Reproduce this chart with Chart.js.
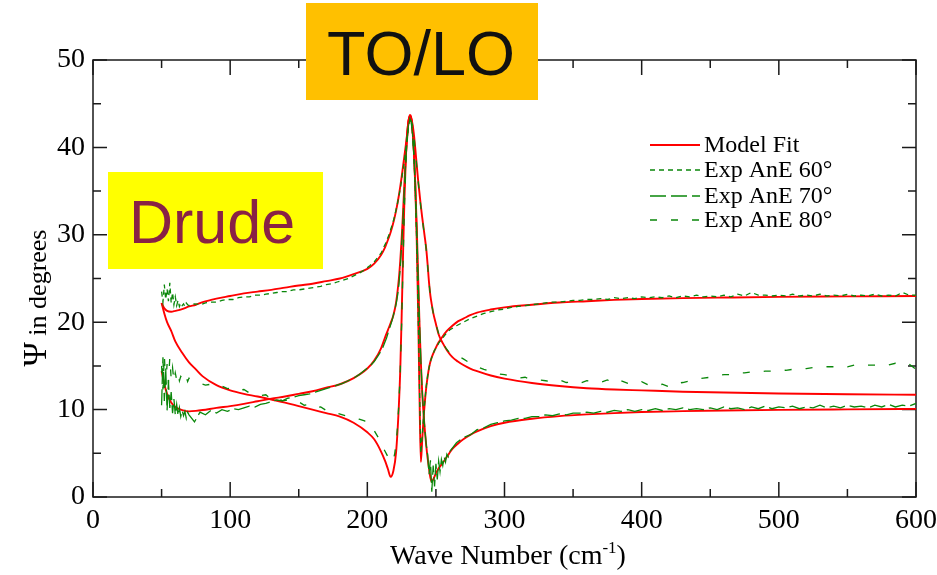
<!DOCTYPE html>
<html>
<head>
<meta charset="utf-8">
<title>Psi vs wave number</title>
<script src="https://cdn.jsdelivr.net/npm/chart.js@4.4.0/dist/chart.umd.min.js"></script>
<style>
  html, body { margin: 0; padding: 0; background: #fff; }
  #chart { display: block; }
</style>
</head>
<body>
<canvas id="chart" width="937" height="575"></canvas>
<script>
// Model fit: wave number grid (cm-1) and Psi (degrees) for each angle
const fitWave = [
  50, 52, 54, 57, 60, 65, 70, 75, 80, 90,
  100, 110, 120, 130, 140, 150, 160, 170, 180, 190,
  200, 205, 210, 213, 215, 217, 219, 221, 223, 224,
  225, 226, 227, 228, 229, 230, 231, 232, 233, 234,
  235, 236, 237, 238, 239, 240, 241, 242, 243, 244,
  245, 246, 247, 248, 250, 252, 255, 258, 262, 266,
  270, 275, 280, 290, 300, 320, 340, 360, 380, 400,
  430, 460, 500, 550, 600
];
const fit60 = [
  22.2, 21.6, 21.3, 21.2, 21.3, 21.5, 21.8, 22.0, 22.3, 22.7,
  23.0, 23.3, 23.5, 23.7, 23.95, 24.2, 24.4, 24.7, 25.0, 25.5,
  26.1, 26.7, 27.7, 28.6, 29.4, 30.3, 31.4, 32.8, 34.5, 35.5,
  36.6, 37.8, 39.0, 40.2, 41.5, 43.0, 43.7, 43.4, 42.0, 39.5,
  35.5, 29.5, 21.5, 12.0, 4.0, 6.5, 9.0, 11.0, 12.6, 13.8,
  14.8, 15.5, 16.0, 16.4, 17.1, 17.7, 18.4, 19.0, 19.6, 20.1,
  20.4, 20.8, 21.1, 21.45, 21.7, 22.0, 22.25, 22.4, 22.55, 22.65,
  22.75, 22.82, 22.9, 22.95, 23.0
];
const fit70 = [
  14.4, 12.9, 11.8, 10.8, 10.3, 9.95, 9.8, 9.85, 9.95, 10.2,
  10.4, 10.65, 10.95, 11.25, 11.5, 11.8, 12.1, 12.5, 12.9, 13.6,
  14.7, 15.6, 17.0, 18.3, 19.1, 19.9, 20.8, 22.3, 25.0, 27.0,
  29.5, 32.5, 35.8, 38.8, 41.0, 42.9, 43.6, 43.3, 41.8, 39.3,
  35.5, 31.0, 25.5, 20.0, 15.5, 12.0, 9.5, 7.5, 5.8, 4.4,
  3.2, 2.2, 1.75, 2.0, 2.7, 3.3, 3.9, 4.6, 5.5, 6.1,
  6.6, 7.1, 7.5, 8.1, 8.5, 8.95, 9.25, 9.45, 9.6, 9.72,
  9.82, 9.9, 9.97, 10.03, 10.08
];
const fit80 = [
  22.2, 21.0, 20.0, 19.0, 17.8, 16.5, 15.4, 14.6, 13.8, 12.8,
  12.2, 11.8, 11.5, 11.15, 10.8, 10.4, 10.0, 9.6, 9.2, 8.5,
  7.4, 6.6, 5.2, 4.1, 3.2, 2.3, 3.0, 5.2, 10.5, 14.5,
  20.5, 27.5, 33.8, 38.5, 41.5, 43.0, 43.5, 43.3, 42.6, 41.4,
  39.8, 38.0, 36.3, 34.8, 33.3, 32.0, 30.8, 29.6, 28.3, 26.5,
  24.5, 23.0, 22.0, 21.1, 19.8, 18.6, 17.6, 16.8, 16.0, 15.5,
  15.1, 14.7, 14.4, 13.9, 13.55, 13.05, 12.7, 12.45, 12.3, 12.2,
  12.05, 11.95, 11.85, 11.75, 11.7
];

// Measured AnE spectra on their own wave number grid
const expWave = [
  50, 51, 52, 53, 54, 55, 56, 57, 58, 59, 60, 61, 62, 63, 64, 65, 66, 67, 68, 69, 70,
  74, 78, 82, 86, 90, 94, 98, 102, 106, 110, 114, 118, 122, 126, 130, 134, 138, 142, 146, 150,
  154, 158, 162, 166, 170, 174, 178, 182, 186, 190, 194, 198, 202, 205, 208,
  210, 211, 212, 213, 214, 215, 216, 217, 218, 219, 220, 221, 222, 223, 224, 225, 226, 227, 228, 229, 230, 231, 232, 233, 234, 235,
  236, 237, 238, 239, 240, 241, 242, 243, 244, 245, 246, 247, 248, 249, 250, 251, 252, 253, 254, 255, 256, 257, 258, 259, 260,
  265, 270, 275, 280, 285, 290, 295, 300, 305, 310, 315, 320, 325, 330, 335, 340, 345, 350, 355, 360, 365, 370, 375, 380, 385, 390, 395, 400,
  405, 410, 415, 420, 425, 430, 435, 440, 445, 450, 455, 460, 465, 470, 475, 480, 485, 490, 495, 500,
  505, 510, 515, 520, 525, 530, 535, 540, 545, 550, 555, 560, 565, 570, 575, 580, 585, 590, 595, 600
];
const exp60 = [
  23.5, 22.3, 24.3, 22.6, 23.8, 22.4, 24.5, 22.2, 23.4, 22.0, 22.9, 21.9, 22.5, 21.8, 22.2, 21.9, 22.1, 21.8, 22.2, 22.0, 21.9,
  22.1, 22.0, 22.2, 22.3, 22.3, 22.5, 22.6, 22.6, 22.8, 22.9, 22.9, 23.1, 23.1, 23.2, 23.3, 23.4, 23.5, 23.5, 23.7, 23.7,
  23.8, 23.9, 24.0, 24.1, 24.3, 24.4, 24.6, 24.8, 25.0, 25.3, 25.6, 26.0, 26.5, 26.9, 27.5,
  27.9, 28.2, 28.6, 28.9, 29.3, 29.7, 30.1, 30.6, 31.1, 31.6, 32.2, 32.9, 33.6, 34.4, 35.3, 36.3, 37.4, 38.5, 39.8, 41.0, 42.4, 43.2, 43.0, 41.6, 39.0, 35.0,
  29.2, 21.6, 12.8, 5.0, 6.8, 9.2, 11.1, 12.7, 13.9, 14.8, 15.5, 16.0, 16.4, 16.8, 17.0, 17.3, 17.6, 17.8, 18.0, 18.2, 18.4, 18.6, 18.8, 18.9, 19.1,
  19.6, 20.0, 20.4, 20.7, 21.0, 21.2, 21.4, 21.5, 21.7, 21.8, 21.9, 22.0, 22.1, 22.2, 22.3, 22.3, 22.4, 22.5, 22.5, 22.6, 22.6, 22.7, 22.6, 22.8, 22.7, 22.8, 22.7, 22.9,
  22.8, 22.9, 22.8, 23.0, 22.8, 23.0, 22.9, 23.1, 22.9, 23.0, 22.9, 23.1, 22.9, 23.2, 23.0, 23.4, 23.1, 23.1, 23.0, 23.1,
  23.0, 23.2, 23.0, 23.1, 23.0, 23.2, 23.0, 23.1, 23.0, 23.2, 23.0, 23.1, 23.0, 23.2, 23.0, 23.1, 23.0, 23.4, 23.1, 23.1
];
const exp70 = [
  10.5, 16.0, 11.0, 14.8, 9.9, 13.2, 10.2, 12.0, 9.6, 11.2, 9.4, 10.6, 9.3, 10.2, 9.2, 9.9, 9.3, 9.8, 9.0, 9.7, 9.4,
  8.6, 9.7, 9.4, 9.9, 9.6, 10.0, 9.8, 10.1, 10.0, 10.2, 10.4, 10.3, 10.6, 10.7, 10.9, 11.1, 11.0, 11.3, 11.4, 11.6,
  11.7, 11.8, 12.0, 12.2, 12.4, 12.6, 12.8, 13.0, 13.3, 13.6, 14.0, 14.5, 15.0, 15.5, 16.2,
  16.7, 17.0, 17.4, 17.8, 18.2, 18.7, 19.2, 19.7, 20.2, 20.8, 21.4, 22.1, 23.0, 24.3, 26.2, 28.8, 31.8, 35.3, 38.5, 40.9, 42.6, 43.3, 42.9, 41.3, 38.9, 35.2,
  30.7, 25.4, 20.2, 15.7, 12.1, 9.6, 7.6, 5.9, 4.8, 2.6, 4.2, 0.6, 3.6, 1.2, 3.8, 2.0, 4.1, 2.9, 4.3, 3.6, 4.6, 4.0, 4.9, 4.6, 5.2,
  6.2, 6.8, 7.1, 7.7, 7.9, 8.3, 8.5, 8.7, 8.8, 9.0, 9.0, 9.2, 9.2, 9.4, 9.3, 9.5, 9.4, 9.6, 9.6, 9.7, 9.6, 9.8, 9.7, 9.9, 9.8, 10.0, 9.8, 10.0,
  9.9, 10.1, 9.9, 10.1, 10.0, 10.2, 10.0, 10.1, 10.0, 10.2, 10.0, 10.3, 10.1, 10.2, 10.0, 10.3, 10.1, 10.4, 10.1, 10.3,
  10.2, 10.4, 10.1, 10.3, 10.2, 10.5, 10.2, 10.4, 10.2, 10.5, 10.3, 10.4, 10.2, 10.5, 10.3, 10.6, 10.3, 10.5, 10.4, 10.7
];
const exp80 = [
  15.0, 12.3, 16.3, 12.8, 15.2, 13.0, 16.0, 13.5, 14.8, 13.2, 14.2, 13.4, 14.1, 13.3, 13.8, 13.6, 13.9, 13.4, 13.7, 13.2, 13.6,
  13.3, 13.0, 12.8, 12.9, 12.6, 12.7, 12.4, 12.5, 12.2, 12.3, 11.9, 11.8, 11.6, 11.7, 11.2, 11.4, 11.0, 11.1, 10.8, 10.9,
  10.5, 10.6, 10.2, 10.3, 9.9, 9.9, 9.6, 9.4, 9.2, 9.1, 8.9, 8.7, 8.4, 7.6, 6.8,
  6.1, 5.8, 5.5, 5.2, 4.9, 4.6, 4.3, 4.1, 4.0, 4.3, 5.0, 6.2, 8.0, 10.7, 14.5, 19.8, 26.5, 33.0, 38.0, 41.0, 42.6, 43.1, 43.0, 42.5, 41.3, 39.6,
  37.9, 36.2, 34.7, 33.2, 31.9, 30.7, 29.5, 28.2, 26.4, 24.5, 23.0, 22.0, 21.1, 20.4, 19.8, 19.2, 18.7, 18.3, 17.9, 17.6, 17.4, 17.1, 16.9, 16.7, 16.5,
  16.2, 15.8, 15.3, 14.9, 14.6, 14.4, 14.1, 14.0, 13.8, 13.6, 13.7, 13.4, 13.4, 13.3, 13.2, 13.4, 13.1, 13.2, 13.0, 13.3, 13.2, 13.1, 13.4, 13.0, 13.3, 13.0, 12.9, 13.2,
  12.8, 12.7, 12.9, 12.6, 13.0, 13.1, 13.3, 13.5, 13.6, 13.7, 13.9, 14.0, 14.0, 14.2, 14.2, 14.3, 14.3, 14.4, 14.4, 14.5,
  14.5, 14.6, 14.6, 14.7, 14.8, 14.8, 14.9, 14.9, 15.0, 14.9, 15.1, 15.0, 15.1, 15.1, 15.2, 15.1, 15.3, 15.1, 15.2, 14.6
];

// Axis ticks
const xTickValues = [0, 100, 200, 300, 400, 500, 600];
const xMinorTicks = [50, 150, 250, 350, 450, 550];
const yTickValues = [0, 10, 20, 30, 40, 50];
const yMinorTicks = [5, 15, 25, 35, 45];

const SERIF = "'Liberation Serif', 'Times New Roman', serif";
const SANS = "'Liberation Sans', Arial, sans-serif";
const RED = '#ff0000';
const GREEN = '#0a870a';

function toPoints(xs, ys) {
  return xs.map((x, i) => ({ x: x, y: ys[i] }));
}

function fitLine(values) {
  return {
    label: 'Model Fit',
    data: toPoints(fitWave, values),
    showLine: true,
    borderColor: RED,
    borderWidth: 1.9,
    cubicInterpolationMode: 'monotone',
    pointRadius: 0,
    order: 1
  };
}

function expLine(label, values, dash) {
  return {
    label: label,
    data: toPoints(expWave, values),
    showLine: true,
    borderColor: GREEN,
    borderWidth: 1.3,
    borderDash: dash,
    tension: 0,
    pointRadius: 0,
    order: 0
  };
}

// Frame, inward ticks, axis titles, legend and the two callout boxes
const decorations = {
  id: 'decorations',
  beforeDatasetsDraw(chart) {
    const { ctx, chartArea: a, scales: { x, y } } = chart;
    ctx.save();
    ctx.strokeStyle = '#1a1a1a';
    ctx.lineWidth = 1.5;
    ctx.strokeRect(a.left, a.top, a.right - a.left, a.bottom - a.top);
    ctx.beginPath();
    const xt = (v, len) => {
      const p = x.getPixelForValue(v);
      ctx.moveTo(p, a.bottom); ctx.lineTo(p, a.bottom - len);
      ctx.moveTo(p, a.top); ctx.lineTo(p, a.top + len);
    };
    const yt = (v, len) => {
      const p = y.getPixelForValue(v);
      ctx.moveTo(a.left, p); ctx.lineTo(a.left + len, p);
      ctx.moveTo(a.right, p); ctx.lineTo(a.right - len, p);
    };
    xTickValues.forEach(v => xt(v, 15));
    xMinorTicks.forEach(v => xt(v, 8));
    yTickValues.forEach(v => yt(v, 14));
    yMinorTicks.forEach(v => yt(v, 8));
    ctx.stroke();
    ctx.restore();
  },
  afterDraw(chart) {
    const { ctx } = chart;
    ctx.save();
    ctx.fillStyle = '#000';

    // x axis title with superscript
    const main = 'Wave Number (cm';
    const sup = '-1';
    const close = ')';
    ctx.font = '28px ' + SERIF;
    const wMain = ctx.measureText(main).width;
    const wClose = ctx.measureText(close).width;
    ctx.font = '17px ' + SERIF;
    const wSup = ctx.measureText(sup).width;
    const tx = 508 - (wMain + wSup + wClose) / 2;
    const base = 564;
    ctx.textBaseline = 'alphabetic';
    ctx.textAlign = 'left';
    ctx.font = '28px ' + SERIF;
    ctx.fillText(main, tx, base);
    ctx.font = '17px ' + SERIF;
    ctx.fillText(sup, tx + wMain, base - 11);
    ctx.font = '28px ' + SERIF;
    ctx.fillText(close, tx + wMain + wSup, base);

    // y axis title, rotated
    ctx.save();
    ctx.translate(46, 298);
    ctx.rotate(-Math.PI / 2);
    const psi = '\u03A8';
    const rest = ' in degrees';
    ctx.font = '33px ' + SERIF;
    const wPsi = ctx.measureText(psi).width;
    ctx.font = '26px ' + SERIF;
    const wRest = ctx.measureText(rest).width;
    const ty = -(wPsi + wRest) / 2;
    ctx.font = '33px ' + SERIF;
    ctx.fillText(psi, ty, 0);
    ctx.font = '26px ' + SERIF;
    ctx.fillText(rest, ty + wPsi, 0);
    ctx.restore();

    // legend
    const entries = [
      chart.data.datasets[3],
      chart.data.datasets[0],
      chart.data.datasets[1],
      chart.data.datasets[2]
    ];
    const rowY = [145, 170, 196, 220];
    ctx.font = '24px ' + SERIF;
    ctx.textBaseline = 'middle';
    entries.forEach((ds, i) => {
      ctx.beginPath();
      ctx.strokeStyle = ds.borderColor;
      ctx.lineWidth = ds.borderWidth;
      ctx.setLineDash(ds.borderDash || []);
      ctx.moveTo(650, rowY[i]);
      ctx.lineTo(700, rowY[i]);
      ctx.stroke();
      ctx.setLineDash([]);
      ctx.fillStyle = '#000';
      ctx.fillText(ds.label, 704, rowY[i] + 1);
    });

    // callout boxes
    ctx.fillStyle = '#ffc000';
    ctx.fillRect(306, 3, 232, 97);
    ctx.fillStyle = '#111';
    ctx.font = '63px ' + SANS;
    ctx.textAlign = 'center';
    ctx.textBaseline = 'alphabetic';
    ctx.fillText('TO/LO', 421, 75);

    ctx.fillStyle = '#ffff00';
    ctx.fillRect(108, 172, 215, 97);
    ctx.fillStyle = '#892245';
    ctx.font = '61px ' + SANS;
    ctx.textAlign = 'left';
    ctx.fillText('Drude', 129, 243);
    ctx.restore();
  }
};

const tickFont = { family: SERIF, size: 28 };

new Chart(document.getElementById('chart'), {
  type: 'scatter',
  data: {
    datasets: [
      expLine('Exp AnE 60\u00B0', exp60, [5, 4]),
      expLine('Exp AnE 70\u00B0', exp70, [16, 5]),
      expLine('Exp AnE 80\u00B0', exp80, [7, 14]),
      fitLine(fit60),
      fitLine(fit70),
      fitLine(fit80)
    ]
  },
  options: {
    responsive: false,
    animation: false,
    events: [],
    devicePixelRatio: 1,
    layout: { padding: { top: 60, right: 21, left: 0, bottom: 0 } },
    plugins: { legend: { display: false }, tooltip: { enabled: false } },
    scales: {
      x: {
        type: 'linear', min: 0, max: 600,
        grid: { display: false, drawTicks: false },
        border: { display: false },
        afterBuildTicks: axis => { axis.ticks = xTickValues.map(v => ({ value: v })); },
        afterFit: axis => { axis.height = 78; axis.paddingLeft = 0; axis.paddingRight = 0; },
        ticks: { font: tickFont, color: '#000', padding: 7, maxRotation: 0, autoSkip: false }
      },
      y: {
        type: 'linear', min: 0, max: 50,
        grid: { display: false, drawTicks: false },
        border: { display: false },
        afterBuildTicks: axis => { axis.ticks = yTickValues.map(v => ({ value: v })); },
        afterFit: axis => { axis.width = 93; axis.paddingTop = 0; axis.paddingBottom = 0; },
        ticks: { font: tickFont, color: '#000', padding: 8 }
      }
    }
  },
  plugins: [decorations]
});
</script>
</body>
</html>
